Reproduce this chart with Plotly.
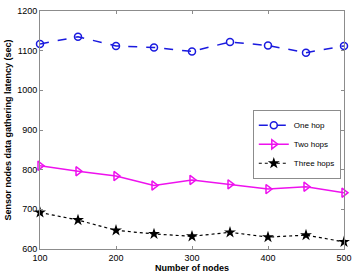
import plotly.graph_objects as go

nodes = [100, 150, 200, 250, 300, 350, 400, 450, 500]
one_hop = [1117, 1135, 1112, 1108, 1098, 1122, 1113, 1095, 1112]
two_hops = [810, 796, 784, 760, 774, 763, 751, 757, 742]
three_hops = [692, 673, 647, 638, 632, 642, 630, 635, 618]

fig = go.Figure()
fig.add_trace(go.Scatter(x=nodes, y=one_hop, name="One hop", mode="lines+markers", cliponaxis=False,
                         line=dict(color="#1a1adf", width=1.5, dash="dash"),
                         marker=dict(symbol="circle-open", size=7, color="#1a1adf", line=dict(width=1.5))))
fig.add_trace(go.Scatter(x=nodes, y=two_hops, name="Two hops", mode="lines+markers", cliponaxis=False,
                         line=dict(color="#ee11ee", width=1.5),
                         marker=dict(symbol="triangle-right-open", size=8, color="#ee11ee", line=dict(width=1.5))))
fig.add_trace(go.Scatter(x=nodes, y=three_hops, name="Three hops", mode="lines+markers", cliponaxis=False,
                         line=dict(color="black", width=1.2, dash="dot"),
                         marker=dict(symbol="star", size=9, color="black")))

axis_common = dict(showline=True, linecolor="#8c8c8c", linewidth=1, mirror="ticks",
                   ticks="inside", ticklen=3, tickcolor="#8c8c8c", showgrid=False, zeroline=False,
                   tickfont=dict(size=9, color="black"), ticklabeloverflow="allow")
fig.update_xaxes(range=[100, 500], dtick=100, tick0=100,
                 title=dict(text="<b>Number of nodes</b>", font=dict(size=9), standoff=2), **axis_common)
fig.update_yaxes(range=[600, 1200], dtick=100,
                 title=dict(text="<b>Sensor nodes data gathering latency (sec)</b>", font=dict(size=9), standoff=4),
                 **axis_common)
fig.update_layout(width=358, height=277, margin=dict(l=40, r=7, t=6, b=27),
                  plot_bgcolor="white", paper_bgcolor="white",
                  font=dict(family="Liberation Sans, Arial", color="black", size=9),
                  legend=dict(x=0.70, y=0.585, xanchor="left", yanchor="top",
                              bgcolor="white", bordercolor="#8c8c8c", borderwidth=1,
                              font=dict(size=8), tracegroupgap=0, itemwidth=30))
fig.write_html("out.html", config={"displayModeBar": False},
               post_script="document.body.style.margin='0';document.body.style.padding='0';")
